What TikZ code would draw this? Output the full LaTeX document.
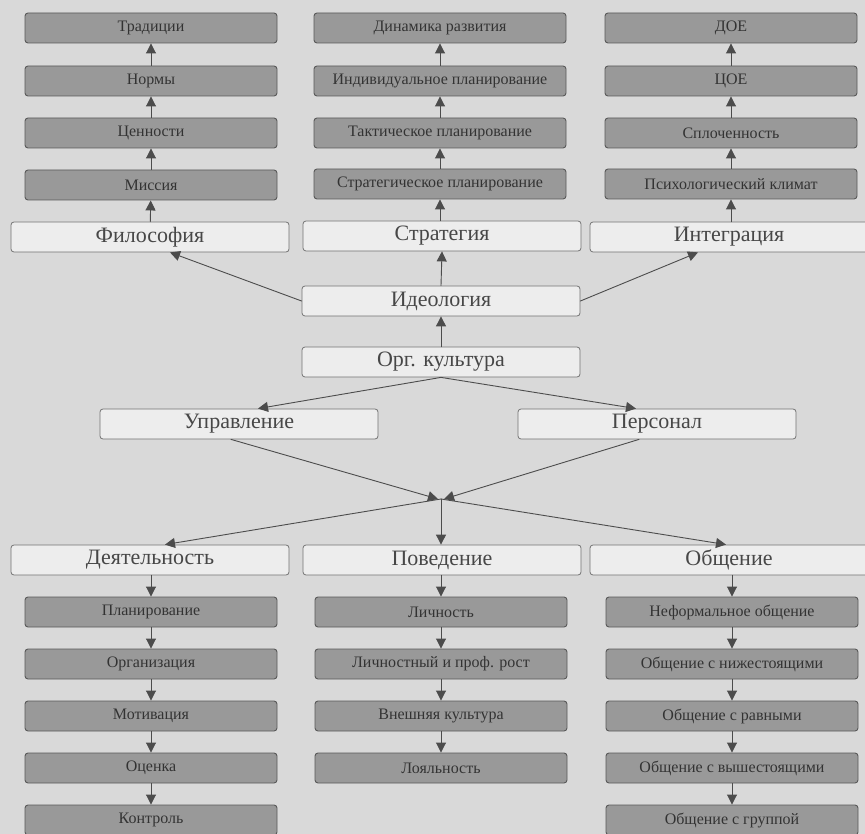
\documentclass[tikz,border=0pt]{standalone}
\usepackage{fontspec}
\setmainfont{Liberation Serif}
\usepackage{tikz}
\usetikzlibrary{arrows.meta}

\tikzset{
  graybox/.style={draw=black!65, line width=0.9pt, rounded corners=3pt, fill=black!40,
    text=black!80, minimum width=252pt, minimum height=30pt, inner sep=0pt,
    font=\fontsize{16}{18}\selectfont},
  whitebox/.style={draw=black!55, line width=0.8pt, rounded corners=3pt, fill=black!7,
    text=black!72, minimum width=278pt, minimum height=30pt, inner sep=0pt,
    font=\fontsize{22}{24}\selectfont},
  arr/.style={draw=black!70, line width=0.9pt, -{Triangle[length=10pt,width=10pt]}}
}

\begin{document}
\begin{tikzpicture}[x=1pt, y=-1pt, line cap=round, line join=round]

  % Background
  \fill[black!15] (0,0) rectangle (865,834);
  \useasboundingbox (0,0) rectangle (865,834);
  \clip (0,0) rectangle (865,834);

  % Top left column
  \node[graybox] (trad) at (151,28) {Традиции};
  \node[graybox] (norm) at (151,81) {Нормы};
  \node[graybox] (cenn) at (151,133) {Ценности};
  \node[graybox] (miss) at (151,185) {Миссия};
  \node[whitebox] (phil) at (150,237) {Философия};

  % Top middle column
  \node[graybox] (dyn) at (440,28) {Динамика развития};
  \node[graybox] (indpl) at (440,81) {Индивидуальное планирование};
  \node[graybox] (taktpl) at (440,133) {Тактическое планирование};
  \node[graybox] (strpl) at (440,184) {Стратегическое планирование};
  \node[whitebox] (strat) at (442,236) {Стратегия};

  % Top right column
  \node[graybox] (doe) at (731,28) {ДОЕ};
  \node[graybox] (coe) at (731,81) {ЦОЕ};
  \node[graybox] (splo) at (731,133) {Сплоченность};
  \node[graybox] (psy) at (731,184) {Психологический климат};
  \node[whitebox] (integ) at (729,237) {Интеграция};

  % Centre
  \node[whitebox] (ideo) at (441,301) {Идеология};
  \node[whitebox] (org) at (441,362) {Орг. культура};
  \node[whitebox] (upr) at (239,424) {Управление};
  \node[whitebox] (pers) at (657,424) {Персонал};
  \coordinate (hub) at (441,499);

  % Bottom left column
  \node[whitebox] (deyat) at (150,560) {Деятельность};
  \node[graybox] (plan) at (151,612) {Планирование};
  \node[graybox] (orgn) at (151,664) {Организация};
  \node[graybox] (motiv) at (151,716) {Мотивация};
  \node[graybox] (ocen) at (151,768) {Оценка};
  \node[graybox] (kontr) at (151,820) {Контроль};

  % Bottom middle column
  \node[whitebox] (pove) at (442,560) {Поведение};
  \node[graybox] (lich) at (441,612) {Личность};
  \node[graybox] (rost) at (441,664) {Личностный и проф. рост};
  \node[graybox] (vnesh) at (441,716) {Внешняя культура};
  \node[graybox] (loyal) at (441,768) {Лояльность};

  % Bottom right column
  \node[whitebox] (obsh) at (729,560) {Общение};
  \node[graybox] (neform) at (732,612) {Неформальное общение};
  \node[graybox] (nizh) at (732,664) {Общение с нижестоящими};
  \node[graybox] (ravn) at (732,716) {Общение с равными};
  \node[graybox] (vysh) at (732,768) {Общение с вышестоящими};
  \node[graybox] (grup) at (732,820) {Общение с группой};

  % Upward arrows in the top columns
  \draw[arr] (phil) -- (miss);
  \draw[arr] (miss) -- (cenn);
  \draw[arr] (cenn) -- (norm);
  \draw[arr] (norm) -- (trad);
  \draw[arr] (strat.north -| strpl) -- (strpl);
  \draw[arr] (strpl) -- (taktpl);
  \draw[arr] (taktpl) -- (indpl);
  \draw[arr] (indpl) -- (dyn);
  \draw[arr] (integ.north -| psy) -- (psy);
  \draw[arr] (psy) -- (splo);
  \draw[arr] (splo) -- (coe);
  \draw[arr] (coe) -- (doe);

  % Centre connectors
  \draw[arr] (ideo.west) -- ([xshift=20pt]phil.south);
  \draw[arr] (ideo.north) -- (strat.south);
  \draw[arr] (ideo.east) -- ([xshift=-31pt]integ.south);
  \draw[arr] (org.north) -- (ideo.south);
  \draw[arr] (org.south) -- ([xshift=19pt]upr.north);
  \draw[arr] (org.south) -- ([xshift=-21pt]pers.north);
  \draw[arr] ([xshift=-8pt]upr.south) -- ([xshift=-3pt]hub);
  \draw[arr] ([xshift=-18pt]pers.south) -- ([xshift=3pt]hub);
  \draw[arr] (hub) -- ([xshift=15pt]deyat.north);
  \draw[arr] (hub) -- (hub |- pove.north);
  \draw[arr] (hub) -- ([xshift=-3pt]obsh.north);

  % Downward arrows in the bottom columns
  \draw[arr] (deyat.south -| plan) -- (plan);
  \draw[arr] (plan) -- (orgn);
  \draw[arr] (orgn) -- (motiv);
  \draw[arr] (motiv) -- (ocen);
  \draw[arr] (ocen) -- (kontr);
  \draw[arr] (pove.south -| lich) -- (lich);
  \draw[arr] (lich) -- (rost);
  \draw[arr] (rost) -- (vnesh);
  \draw[arr] (vnesh) -- (loyal);
  \draw[arr] (obsh.south -| neform) -- (neform);
  \draw[arr] (neform) -- (nizh);
  \draw[arr] (nizh) -- (ravn);
  \draw[arr] (ravn) -- (vysh);
  \draw[arr] (vysh) -- (grup);

\end{tikzpicture}
\end{document}
